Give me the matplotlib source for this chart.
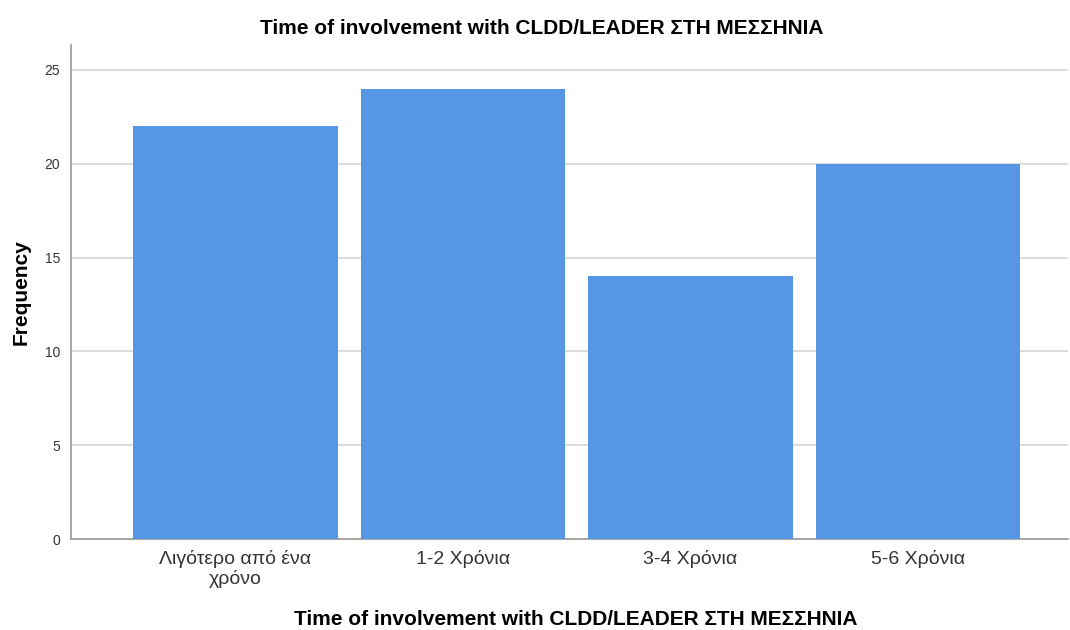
import matplotlib
matplotlib.use("Agg")
import matplotlib.pyplot as plt

plt.rcParams['font.family'] = ['Liberation Sans', 'DejaVu Sans']

categories = ["Λιγότερο από ένα\nχρόνο", "1-2 Χρόνια", "3-4 Χρόνια", "5-6 Χρόνια"]
frequency = [22, 24, 14, 20]
yticks = [0, 5, 10, 15, 20, 25]

fig = plt.figure(figsize=(10.7, 6.3), dpi=100)
ax = fig.add_axes([0.0664, 0.1444, 0.9316, 0.7842])

x = range(len(categories))
ax.bar(x, frequency, width=0.9, color="#5596e5", zorder=3)

ax.set_xlim(-0.723, 3.659)
ax.set_ylim(0, 26.33)
ax.set_yticks(yticks)
ax.set_xticks(list(x))
ax.set_xticklabels(categories, fontsize=14, color="#333333", linespacing=1.15)
ax.tick_params(axis='y', labelsize=10, colors="#333333", length=0, pad=8)
ax.tick_params(axis='x', length=0, pad=8)
ax.yaxis.grid(True, color="#d6d6d6", linewidth=1.2, zorder=0)

for s in ["top", "right"]:
    ax.spines[s].set_visible(False)
for s in ["left", "bottom"]:
    ax.spines[s].set_color("#999999")
    ax.spines[s].set_linewidth(1.2)

ax.set_ylabel("Frequency", fontsize=15, fontweight="bold", labelpad=10)
fig.text(0.506, 0.955, "Time of involvement with CLDD/LEADER ΣΤΗ ΜΕΣΣΗΝΙΑ",
         ha="center", va="center", fontsize=15, fontweight="bold")
fig.text(0.538, 0.016, "Time of involvement with CLDD/LEADER ΣΤΗ ΜΕΣΣΗΝΙΑ",
         ha="center", va="center", fontsize=15, fontweight="bold")

fig.savefig("out.png", dpi=100)
